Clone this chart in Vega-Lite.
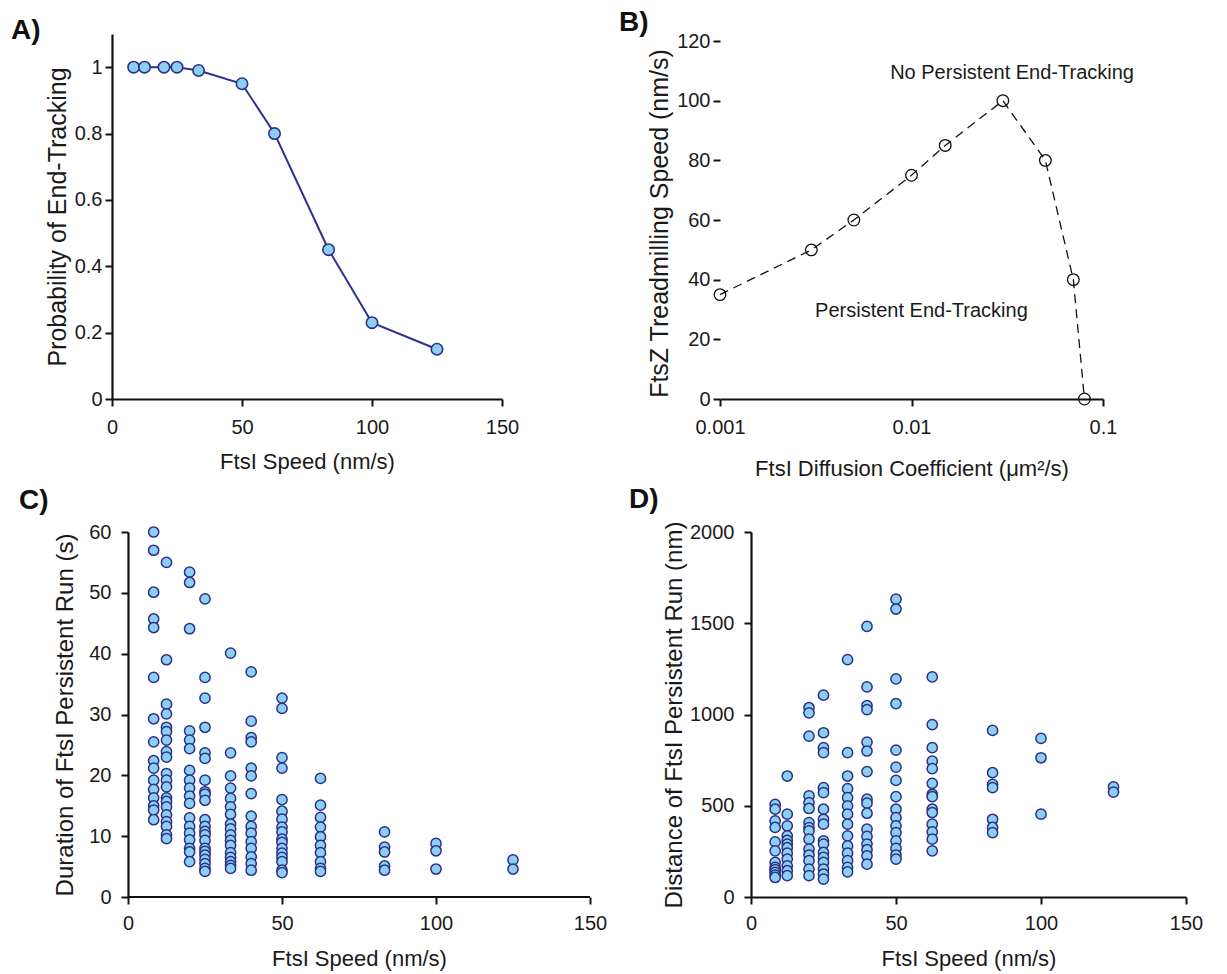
{
  "$schema": "https://vega.github.io/schema/vega-lite/v6.json",
  "background": "white",
  "padding": {"left": 11, "top": 9, "right": 5, "bottom": 3},
  "config": {
    "view": {"stroke": null},
    "font": "Liberation Sans",
    "axis": {
      "grid": false,
      "domainColor": "#111111",
      "domainWidth": 2.2,
      "tickColor": "#111111",
      "tickWidth": 2,
      "tickSize": 7,
      "labelFont": "Liberation Sans",
      "labelFontSize": 20,
      "labelColor": "#1a1a1a",
      "labelFlush": false,
      "labelOverlap": false,
      "titleFont": "Liberation Sans",
      "titleFontSize": 22,
      "titleFontWeight": "normal",
      "titleColor": "#1a1a1a"
    },
    "title": {
      "font": "Liberation Sans",
      "fontSize": 28,
      "fontWeight": "bold",
      "color": "#111111",
      "anchor": "start",
      "frame": "group",
      "offset": 0,
      "baseline": "alphabetic"
    }
  },
  "datasets": {
    "probability": [
      {"speed": 8.33, "probability": 1.0},
      {"speed": 12.5, "probability": 1.0},
      {"speed": 20, "probability": 1.0},
      {"speed": 25, "probability": 1.0},
      {"speed": 33.3, "probability": 0.99},
      {"speed": 50, "probability": 0.95},
      {"speed": 62.5, "probability": 0.8},
      {"speed": 83.3, "probability": 0.45},
      {"speed": 100, "probability": 0.23},
      {"speed": 125, "probability": 0.15}
    ],
    "diffusion": [
      {"coefficient": 0.001, "speed": 35},
      {"coefficient": 0.003, "speed": 50},
      {"coefficient": 0.005, "speed": 60},
      {"coefficient": 0.01, "speed": 75},
      {"coefficient": 0.015, "speed": 85},
      {"coefficient": 0.03, "speed": 100},
      {"coefficient": 0.05, "speed": 80},
      {"coefficient": 0.07, "speed": 40},
      {"coefficient": 0.08, "speed": 0}
    ],
    "regions": [
      {"coefficient": 0.0335, "speed": 109.3, "label": "No Persistent End-Tracking"},
      {"coefficient": 0.01127, "speed": 29.5, "label": "Persistent End-Tracking"}
    ],
    "duration": [
      {"speed": 8.33, "duration": 60}, {"speed": 8.33, "duration": 57}, {"speed": 8.33, "duration": 50.1}, {"speed": 8.33, "duration": 45.7},
      {"speed": 8.33, "duration": 44.3}, {"speed": 8.33, "duration": 36.1}, {"speed": 8.33, "duration": 29.3}, {"speed": 8.33, "duration": 25.5},
      {"speed": 8.33, "duration": 22.4}, {"speed": 8.33, "duration": 21.2}, {"speed": 8.33, "duration": 19.2}, {"speed": 8.33, "duration": 17.7},
      {"speed": 8.33, "duration": 16.3}, {"speed": 8.33, "duration": 15}, {"speed": 8.33, "duration": 14.3}, {"speed": 8.33, "duration": 12.7},
      {"speed": 12.5, "duration": 55}, {"speed": 12.5, "duration": 39}, {"speed": 12.5, "duration": 31.7}, {"speed": 12.5, "duration": 30.1},
      {"speed": 12.5, "duration": 27.9}, {"speed": 12.5, "duration": 27.2}, {"speed": 12.5, "duration": 25.8}, {"speed": 12.5, "duration": 23.9},
      {"speed": 12.5, "duration": 23}, {"speed": 12.5, "duration": 20.3}, {"speed": 12.5, "duration": 19.2}, {"speed": 12.5, "duration": 18.1},
      {"speed": 12.5, "duration": 16.3}, {"speed": 12.5, "duration": 15.7}, {"speed": 12.5, "duration": 14.8}, {"speed": 12.5, "duration": 13.5},
      {"speed": 12.5, "duration": 12.4}, {"speed": 12.5, "duration": 11.6}, {"speed": 12.5, "duration": 10.2}, {"speed": 12.5, "duration": 9.6},
      {"speed": 20, "duration": 53.4}, {"speed": 20, "duration": 51.7}, {"speed": 20, "duration": 44.1}, {"speed": 20, "duration": 27.3},
      {"speed": 20, "duration": 25.8}, {"speed": 20, "duration": 24.4}, {"speed": 20, "duration": 20.8}, {"speed": 20, "duration": 19.2},
      {"speed": 20, "duration": 17.9}, {"speed": 20, "duration": 16.6}, {"speed": 20, "duration": 15.4}, {"speed": 20, "duration": 13},
      {"speed": 20, "duration": 11.6}, {"speed": 20, "duration": 10.5}, {"speed": 20, "duration": 9.4}, {"speed": 20, "duration": 8},
      {"speed": 20, "duration": 7.4}, {"speed": 20, "duration": 5.8},
      {"speed": 25, "duration": 49}, {"speed": 25, "duration": 36.1}, {"speed": 25, "duration": 32.7}, {"speed": 25, "duration": 27.9},
      {"speed": 25, "duration": 23.7}, {"speed": 25, "duration": 22.8}, {"speed": 25, "duration": 19.2}, {"speed": 25, "duration": 17.3},
      {"speed": 25, "duration": 16.9}, {"speed": 25, "duration": 15.9}, {"speed": 25, "duration": 12.7}, {"speed": 25, "duration": 11.6},
      {"speed": 25, "duration": 10.8}, {"speed": 25, "duration": 10.2}, {"speed": 25, "duration": 9.3}, {"speed": 25, "duration": 8},
      {"speed": 25, "duration": 7.5}, {"speed": 25, "duration": 6.9}, {"speed": 25, "duration": 6.2}, {"speed": 25, "duration": 5.5},
      {"speed": 25, "duration": 4.7}, {"speed": 25, "duration": 4.2},
      {"speed": 33.3, "duration": 40.1}, {"speed": 33.3, "duration": 23.7}, {"speed": 33.3, "duration": 19.9}, {"speed": 33.3, "duration": 17.9},
      {"speed": 33.3, "duration": 16.2}, {"speed": 33.3, "duration": 14.8}, {"speed": 33.3, "duration": 13.6}, {"speed": 33.3, "duration": 12},
      {"speed": 33.3, "duration": 11.2}, {"speed": 33.3, "duration": 10.2}, {"speed": 33.3, "duration": 9.3}, {"speed": 33.3, "duration": 8.5},
      {"speed": 33.3, "duration": 7.3}, {"speed": 33.3, "duration": 6.5}, {"speed": 33.3, "duration": 5.8}, {"speed": 33.3, "duration": 5.2},
      {"speed": 33.3, "duration": 4.7},
      {"speed": 40, "duration": 37}, {"speed": 40, "duration": 28.9}, {"speed": 40, "duration": 26.2}, {"speed": 40, "duration": 25.5},
      {"speed": 40, "duration": 21.2}, {"speed": 40, "duration": 19.9}, {"speed": 40, "duration": 17}, {"speed": 40, "duration": 13.3},
      {"speed": 40, "duration": 11.6}, {"speed": 40, "duration": 10.5}, {"speed": 40, "duration": 9.1}, {"speed": 40, "duration": 8},
      {"speed": 40, "duration": 6.6}, {"speed": 40, "duration": 5.5}, {"speed": 40, "duration": 4.4},
      {"speed": 50, "duration": 32.7}, {"speed": 50, "duration": 31}, {"speed": 50, "duration": 22.9}, {"speed": 50, "duration": 21.2},
      {"speed": 50, "duration": 16}, {"speed": 50, "duration": 14.1}, {"speed": 50, "duration": 12.8}, {"speed": 50, "duration": 11.5},
      {"speed": 50, "duration": 10.7}, {"speed": 50, "duration": 9.5}, {"speed": 50, "duration": 9}, {"speed": 50, "duration": 8},
      {"speed": 50, "duration": 7.2}, {"speed": 50, "duration": 6.5}, {"speed": 50, "duration": 5.8}, {"speed": 50, "duration": 4.4},
      {"speed": 50, "duration": 4},
      {"speed": 62.5, "duration": 19.5}, {"speed": 62.5, "duration": 15.1}, {"speed": 62.5, "duration": 13.1}, {"speed": 62.5, "duration": 11.5},
      {"speed": 62.5, "duration": 9.9}, {"speed": 62.5, "duration": 8.5}, {"speed": 62.5, "duration": 7.3}, {"speed": 62.5, "duration": 5.8},
      {"speed": 62.5, "duration": 4.7}, {"speed": 62.5, "duration": 4.2},
      {"speed": 83.3, "duration": 10.7}, {"speed": 83.3, "duration": 8.2}, {"speed": 83.3, "duration": 7.4}, {"speed": 83.3, "duration": 5.1},
      {"speed": 83.3, "duration": 4.4},
      {"speed": 100, "duration": 8.8}, {"speed": 100, "duration": 7.6}, {"speed": 100, "duration": 4.6},
      {"speed": 125, "duration": 6.1}, {"speed": 125, "duration": 4.6}
    ],
    "distance": [
      {"speed": 8.33, "distance": 508}, {"speed": 8.33, "distance": 481}, {"speed": 8.33, "distance": 417}, {"speed": 8.33, "distance": 381},
      {"speed": 8.33, "distance": 302}, {"speed": 8.33, "distance": 253}, {"speed": 8.33, "distance": 190}, {"speed": 8.33, "distance": 162},
      {"speed": 8.33, "distance": 150}, {"speed": 8.33, "distance": 135}, {"speed": 8.33, "distance": 120}, {"speed": 8.33, "distance": 107},
      {"speed": 12.5, "distance": 663}, {"speed": 12.5, "distance": 454}, {"speed": 12.5, "distance": 390}, {"speed": 12.5, "distance": 335},
      {"speed": 12.5, "distance": 310}, {"speed": 12.5, "distance": 290}, {"speed": 12.5, "distance": 270}, {"speed": 12.5, "distance": 240},
      {"speed": 12.5, "distance": 208}, {"speed": 12.5, "distance": 171}, {"speed": 12.5, "distance": 144}, {"speed": 12.5, "distance": 117},
      {"speed": 20, "distance": 1037}, {"speed": 20, "distance": 1009}, {"speed": 20, "distance": 882}, {"speed": 20, "distance": 554},
      {"speed": 20, "distance": 517}, {"speed": 20, "distance": 485}, {"speed": 20, "distance": 408}, {"speed": 20, "distance": 380},
      {"speed": 20, "distance": 362}, {"speed": 20, "distance": 317}, {"speed": 20, "distance": 262}, {"speed": 20, "distance": 230},
      {"speed": 20, "distance": 199}, {"speed": 20, "distance": 153}, {"speed": 20, "distance": 117},
      {"speed": 25, "distance": 1106}, {"speed": 25, "distance": 900}, {"speed": 25, "distance": 818}, {"speed": 25, "distance": 791},
      {"speed": 25, "distance": 599}, {"speed": 25, "distance": 572}, {"speed": 25, "distance": 481}, {"speed": 25, "distance": 426},
      {"speed": 25, "distance": 399}, {"speed": 25, "distance": 308}, {"speed": 25, "distance": 290}, {"speed": 25, "distance": 244},
      {"speed": 25, "distance": 217}, {"speed": 25, "distance": 190}, {"speed": 25, "distance": 153}, {"speed": 25, "distance": 126},
      {"speed": 25, "distance": 98},
      {"speed": 33.3, "distance": 1301}, {"speed": 33.3, "distance": 791}, {"speed": 33.3, "distance": 663}, {"speed": 33.3, "distance": 594},
      {"speed": 33.3, "distance": 545}, {"speed": 33.3, "distance": 499}, {"speed": 33.3, "distance": 454}, {"speed": 33.3, "distance": 399},
      {"speed": 33.3, "distance": 335}, {"speed": 33.3, "distance": 280}, {"speed": 33.3, "distance": 240}, {"speed": 33.3, "distance": 199},
      {"speed": 33.3, "distance": 162}, {"speed": 33.3, "distance": 138},
      {"speed": 40, "distance": 1483}, {"speed": 40, "distance": 1151}, {"speed": 40, "distance": 1049}, {"speed": 40, "distance": 1027},
      {"speed": 40, "distance": 849}, {"speed": 40, "distance": 800}, {"speed": 40, "distance": 687}, {"speed": 40, "distance": 536},
      {"speed": 40, "distance": 514}, {"speed": 40, "distance": 459}, {"speed": 40, "distance": 372}, {"speed": 40, "distance": 332},
      {"speed": 40, "distance": 290}, {"speed": 40, "distance": 259}, {"speed": 40, "distance": 226}, {"speed": 40, "distance": 180},
      {"speed": 50, "distance": 1632}, {"speed": 50, "distance": 1578}, {"speed": 50, "distance": 1195}, {"speed": 50, "distance": 1060},
      {"speed": 50, "distance": 805}, {"speed": 50, "distance": 712}, {"speed": 50, "distance": 639}, {"speed": 50, "distance": 550},
      {"speed": 50, "distance": 481}, {"speed": 50, "distance": 435}, {"speed": 50, "distance": 390}, {"speed": 50, "distance": 353},
      {"speed": 50, "distance": 308}, {"speed": 50, "distance": 266}, {"speed": 50, "distance": 230}, {"speed": 50, "distance": 208},
      {"speed": 62.5, "distance": 1206}, {"speed": 62.5, "distance": 945}, {"speed": 62.5, "distance": 818}, {"speed": 62.5, "distance": 745},
      {"speed": 62.5, "distance": 703}, {"speed": 62.5, "distance": 623}, {"speed": 62.5, "distance": 563}, {"speed": 62.5, "distance": 550},
      {"speed": 62.5, "distance": 481}, {"speed": 62.5, "distance": 463}, {"speed": 62.5, "distance": 399}, {"speed": 62.5, "distance": 357},
      {"speed": 62.5, "distance": 317}, {"speed": 62.5, "distance": 253},
      {"speed": 83.3, "distance": 913}, {"speed": 83.3, "distance": 681}, {"speed": 83.3, "distance": 617}, {"speed": 83.3, "distance": 599},
      {"speed": 83.3, "distance": 426}, {"speed": 83.3, "distance": 381}, {"speed": 83.3, "distance": 353},
      {"speed": 100, "distance": 869}, {"speed": 100, "distance": 763}, {"speed": 100, "distance": 454},
      {"speed": 125, "distance": 603}, {"speed": 125, "distance": 575}
    ]
  },
  "spacing": 7,
  "vconcat": [
    {
      "bounds": "flush",
      "spacing": 218,
      "hconcat": [
        {
          "width": 390,
          "height": 365,
          "title": {"text": "A)", "dx": -101, "dy": 15},
          "data": {"name": "probability"},
          "encoding": {
            "x": {"field": "speed", "type": "quantitative",
                  "scale": {"domain": [0, 150], "nice": false},
                  "axis": {"values": [0, 50, 100, 150], "title": "FtsI Speed (nm/s)", "labelPadding": 11,
                           "titleY": 62, "titleBaseline": "middle"}},
            "y": {"field": "probability", "type": "quantitative",
                  "scale": {"domain": [0, 1.1], "nice": false},
                  "axis": {"values": [0, 0.2, 0.4, 0.6, 0.8, 1], "format": "~g", "labelPadding": 3,
                           "title": "Probability of End-Tracking", "titleFontSize": 25,
                           "titleX": -55, "titleY": 182.5, "titleBaseline": "middle"}}
          },
          "layer": [
            {"mark": {"type": "line", "color": "#2e3192", "strokeWidth": 2}},
            {"mark": {"type": "point", "shape": "circle", "filled": true, "fill": "#8dcff3", "stroke": "#2b3087",
                      "strokeWidth": 1.6, "size": 130, "opacity": 1}}
          ]
        },
        {
          "width": 383,
          "height": 365,
          "title": {"text": "B)", "dx": -101, "dy": 10},
          "encoding": {
            "x": {"field": "coefficient", "type": "quantitative",
                  "scale": {"type": "log", "domain": [0.001, 0.1], "nice": false},
                  "axis": {"values": [0.001, 0.01, 0.1], "format": "~g", "labelPadding": 11,
                           "title": "FtsI Diffusion Coefficient (μm²/s)", "titleY": 69, "titleBaseline": "middle"}},
            "y": {"field": "speed", "type": "quantitative",
                  "scale": {"domain": [0, 122.35], "nice": false},
                  "axis": {"values": [0, 20, 40, 60, 80, 100, 120], "domain": false, "labelPadding": 3,
                           "title": "FtsZ Treadmilling Speed (nm/s)", "titleFontSize": 25,
                           "titleX": -61, "titleY": 189, "titleBaseline": "middle"}}
          },
          "layer": [
            {"data": {"name": "diffusion"},
             "mark": {"type": "line", "color": "#111111", "strokeWidth": 1.3, "strokeDash": [9, 6]}},
            {"data": {"name": "diffusion"},
             "mark": {"type": "point", "shape": "circle", "filled": false, "stroke": "#111111", "strokeWidth": 1.3,
                      "size": 135, "opacity": 1}},
            {"data": {"name": "regions"},
             "mark": {"type": "text", "font": "Liberation Sans", "fontSize": 20, "color": "#1a1a1a", "align": "center", "baseline": "middle"},
             "encoding": {"text": {"field": "label"}}},
            {"data": {"values": [{}]},
             "mark": {"type": "rule", "color": "#111111", "strokeWidth": 2.2},
             "encoding": {"x": {"datum": 0.001}, "y": {"datum": 0}, "y2": {"datum": 120}}}
          ]
        }
      ]
    },
    {
      "bounds": "flush",
      "spacing": 161,
      "hconcat": [
        {
          "width": 478,
          "height": 365,
          "title": {"text": "C)", "dx": -93, "dy": -3},
          "layer": [
            {
              "data": {"name": "duration"},
              "mark": {"type": "point", "shape": "circle", "filled": true, "fill": "#8dcff3", "stroke": "#2b3087",
                       "strokeWidth": 1.5, "size": 105, "opacity": 1},
              "encoding": {
                "x": {"field": "speed", "type": "quantitative",
                      "scale": {"domain": [-5.195, 150], "nice": false},
                      "axis": {"values": [0, 50, 100, 150], "title": "FtsI Speed (nm/s)", "labelPadding": 9, "domain": false,
                               "titleX": 247, "titleY": 61, "titleBaseline": "middle"}},
                "y": {"field": "duration", "type": "quantitative",
                      "scale": {"domain": [0, 60], "nice": false},
                      "axis": {"values": [0, 10, 20, 30, 40, 50, 60], "labelPadding": 10, "offset": -16,
                               "title": "Duration of FtsI Persistent Run (s)", "titleFontSize": 24,
                               "titleX": -63, "titleY": 182.5, "titleBaseline": "middle"}}
              }
            },
            {
              "data": {"values": [{}]},
              "mark": {"type": "rule", "color": "#111111", "strokeWidth": 2.2},
              "encoding": {"x": {"datum": 0}, "x2": {"datum": 150}, "y": {"datum": 0}}
            }
          ]
        },
        {
          "width": 435,
          "height": 365,
          "title": {"text": "D)", "dx": -122, "dy": -3},
          "data": {"name": "distance"},
          "mark": {"type": "point", "shape": "circle", "filled": true, "fill": "#8dcff3", "stroke": "#2b3087",
                   "strokeWidth": 1.5, "size": 105, "opacity": 1},
          "encoding": {
            "x": {"field": "speed", "type": "quantitative",
                  "scale": {"domain": [0, 150], "nice": false},
                  "axis": {"values": [0, 50, 100, 150], "title": "FtsI Speed (nm/s)", "labelPadding": 9,
                           "titleY": 61, "titleBaseline": "middle"}},
            "y": {"field": "distance", "type": "quantitative",
                  "scale": {"domain": [0, 2000], "nice": false},
                  "axis": {"values": [0, 500, 1000, 1500, 2000], "format": "d", "labelPadding": 10,
                           "title": "Distance of FtsI Persistent Run (nm)", "titleFontSize": 24,
                           "titleX": -77, "titleY": 182.5, "titleBaseline": "middle"}}
          }
        }
      ]
    }
  ]
}
